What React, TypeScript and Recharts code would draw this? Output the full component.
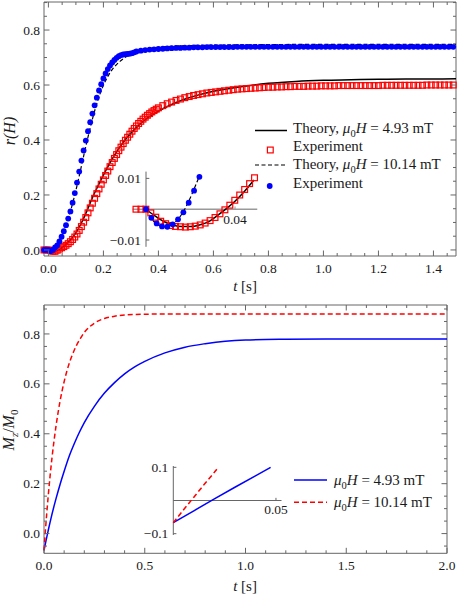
import {
  ComposedChart,
  Line,
  Scatter,
  XAxis,
  YAxis,
  ReferenceArea,
  ReferenceLine,
  ReferenceDot,
} from "recharts";

const FONT = '"Liberation Serif", "Times New Roman", serif';
const FRAME = "#666";
const TXT = "#1a1a1a";
const BLUE = "#0000ff";
const RED = "#ff0000";

// ---------- upper panel: r(H) against t ----------
const topXMajor = [0, 0.2, 0.4, 0.6, 0.8, 1.0, 1.2, 1.4];
const topYMajor = [0, 0.2, 0.4, 0.6, 0.8];

// experiment, 10.14 mT (blue dots): fine steps on the rise, coarser on the plateau
const blueRiseT0 = -0.016;
const blueRiseDt = 0.008;
const blueRise = [
  0.0, 0.0, 0.0, -0.004, 0.0, 0.009, 0.017, 0.031, 0.048, 0.068, 0.09, 0.114,
  0.14, 0.172, 0.207, 0.245, 0.285, 0.325, 0.362, 0.398, 0.432, 0.465, 0.496,
  0.526, 0.554, 0.58, 0.603, 0.624, 0.642, 0.658, 0.671, 0.682, 0.691, 0.699,
  0.705, 0.709, 0.711, 0.712, 0.713, 0.714, 0.716, 0.719, 0.722,
];
const bluePlateauT0 = 0.336;
const bluePlateauDt = 0.016;
const bluePlateau = [
  0.725, 0.727, 0.729, 0.73, 0.731, 0.732, 0.733, 0.734, 0.735, 0.735, 0.736,
  0.736, 0.737, 0.737, 0.737, 0.738, 0.738, 0.738, 0.738, 0.738, 0.738, 0.738,
  0.739, 0.739, 0.739, 0.739, 0.739, 0.739, 0.739, 0.739, 0.739, 0.739, 0.739,
  0.739, 0.739, 0.739, 0.739, 0.739, 0.739, 0.739, 0.739, 0.739, 0.739, 0.739,
  0.739, 0.739, 0.739, 0.739, 0.739, 0.739, 0.739, 0.739, 0.739, 0.739, 0.739,
  0.739, 0.739, 0.739, 0.739, 0.739, 0.739, 0.739, 0.739, 0.739, 0.739, 0.739,
  0.739, 0.739, 0.739, 0.739, 0.739, 0.739,
];

// experiment, 4.93 mT (red squares)
const redRiseT0 = -0.016;
const redRiseDt = 0.008;
const redRise = [
  0.0, 0.0, 0.0, -0.002, -0.005, -0.005, -0.001, 0.003, 0.008, 0.012, 0.017,
  0.023, 0.03, 0.038, 0.047, 0.058, 0.071, 0.085, 0.101, 0.118, 0.135, 0.153,
  0.17, 0.188, 0.205, 0.222, 0.239, 0.255, 0.271, 0.287, 0.303, 0.318, 0.333,
  0.347, 0.361, 0.374, 0.387, 0.399, 0.41, 0.421, 0.432, 0.442, 0.451, 0.46,
  0.468, 0.476, 0.483, 0.49, 0.496, 0.502, 0.507, 0.512, 0.517,
];
const redPlateauT0 = 0.416;
const redPlateauDt = 0.016;
const redPlateau = [
  0.525, 0.532, 0.538, 0.544, 0.549, 0.554, 0.558, 0.562, 0.565, 0.568, 0.571,
  0.573, 0.575, 0.577, 0.579, 0.581, 0.583, 0.585, 0.586, 0.587, 0.588, 0.589,
  0.59, 0.591, 0.592, 0.592, 0.593, 0.593, 0.594, 0.594, 0.595, 0.595, 0.595,
  0.596, 0.596, 0.596, 0.597, 0.597, 0.597, 0.597, 0.598, 0.598, 0.598, 0.598,
  0.598, 0.598, 0.598, 0.598, 0.598, 0.598, 0.599, 0.599, 0.599, 0.599, 0.599,
  0.599, 0.599, 0.599, 0.599, 0.599, 0.6, 0.6, 0.6, 0.6, 0.6, 0.6, 0.6,
];

// theory curves
const theoryLowT = [
  0, 0.01, 0.02, 0.03, 0.04, 0.05, 0.06, 0.08, 0.1, 0.12, 0.14, 0.16, 0.18, 0.2,
  0.22, 0.24, 0.26, 0.28, 0.3, 0.33, 0.36, 0.4, 0.45, 0.5, 0.55, 0.6, 0.7, 0.8,
  0.9, 1.0, 1.1, 1.2, 1.3, 1.4, 1.482,
];
const theoryLow = [
  0, -0.004, -0.0055, -0.003, 0.002, 0.009, 0.017, 0.036, 0.062, 0.098, 0.142,
  0.19, 0.232, 0.272, 0.31, 0.344, 0.375, 0.402, 0.425, 0.455, 0.48, 0.505,
  0.53, 0.55, 0.565, 0.577, 0.594, 0.606, 0.613, 0.617, 0.619, 0.621, 0.622,
  0.622, 0.623,
];
const theoryHighT = [
  0, 0.005, 0.01, 0.015, 0.02, 0.03, 0.04, 0.05, 0.06, 0.07, 0.08, 0.09, 0.1,
  0.11, 0.12, 0.13, 0.14, 0.15, 0.16, 0.17, 0.18, 0.19, 0.2, 0.22, 0.24, 0.26,
  0.28, 0.3, 0.33, 0.36, 0.4, 0.45, 0.5, 0.6, 0.7, 0.8, 1.0, 1.2, 1.482,
];
const theoryHigh = [
  0, -0.005, -0.0055, -0.001, 0.004, 0.016, 0.03, 0.052, 0.078, 0.107, 0.14,
  0.177, 0.217, 0.26, 0.305, 0.35, 0.394, 0.436, 0.476, 0.512, 0.545, 0.574,
  0.599, 0.638, 0.666, 0.686, 0.701, 0.712, 0.724, 0.731, 0.737, 0.741, 0.743,
  0.745, 0.746, 0.747, 0.748, 0.748, 0.748,
];

// upper inset (start of the rise)
const insetRedT0 = -0.0045;
const insetRedDt = 0.00222;
const insetRed = [
  0, 0, 0, -0.0012, -0.0026, -0.0039, -0.0047, -0.0053, -0.0056, -0.0057,
  -0.0058, -0.0057, -0.0055, -0.0051, -0.0045, -0.0037, -0.0027, -0.0015,
  -0.0002, 0.0013, 0.0029, 0.0046, 0.0064, 0.0083, 0.0102,
];
const insetBlueT0 = 0;
const insetBlueDt = 0.0024;
const insetBlue = [
  0, -0.0028, -0.0046, -0.0056, -0.0057, -0.0049, -0.0033, -0.001, 0.0021,
  0.006, 0.0105,
];
const insetLowT = [0, 0.004, 0.008, 0.012, 0.016, 0.02, 0.024, 0.028, 0.032, 0.036, 0.04, 0.044, 0.0485];
const insetLow = [0, -0.0022, -0.004, -0.0051, -0.0056, -0.0056, -0.0051, -0.0041, -0.0021, 0.0001, 0.0026, 0.0056, 0.0095];
const insetHighT = [0, 0.003, 0.006, 0.009, 0.012, 0.015, 0.018, 0.021, 0.024];
const insetHigh = [0, -0.0035, -0.0053, -0.0057, -0.0048, -0.0027, 0.0008, 0.0055, 0.0108];

// ---------- lower panel: Mz/M0 against t ----------
const botXMajor = [0, 0.5, 1.0, 1.5, 2.0];
const botYMajor = [0, 0.2, 0.4, 0.6, 0.8];
const mzLowT = [
  0, 0.01, 0.02, 0.03, 0.04, 0.05, 0.06, 0.08, 0.1, 0.125, 0.15, 0.175, 0.2,
  0.25, 0.3, 0.35, 0.4, 0.45, 0.5, 0.6, 0.7, 0.8, 0.9, 1.0, 1.2, 1.4, 1.6, 1.8,
  2.0,
];
const mzLow = [
  -0.067, -0.028, 0.009, 0.045, 0.079, 0.111, 0.141, 0.198, 0.25, 0.31, 0.36,
  0.405, 0.445, 0.51, 0.563, 0.605, 0.64, 0.668, 0.69, 0.724, 0.747, 0.761,
  0.771, 0.776, 0.779, 0.78, 0.78, 0.78, 0.78,
];
const mzHighT = [
  0, 0.01, 0.02, 0.03, 0.04, 0.05, 0.06, 0.08, 0.1, 0.12, 0.14, 0.16, 0.18, 0.2,
  0.25, 0.3, 0.35, 0.4, 0.5, 0.6, 0.8, 1.0, 1.5, 2.0,
];
const mzHigh = [
  -0.067, 0.044, 0.142, 0.229, 0.306, 0.373, 0.433, 0.532, 0.609, 0.669, 0.715,
  0.752, 0.781, 0.806, 0.843, 0.862, 0.871, 0.876, 0.879, 0.88, 0.88, 0.88,
  0.88, 0.88,
];
const mzInsetLowT = [0, 0.01, 0.02, 0.03, 0.04, 0.0474];
const mzInsetLow = [-0.067, -0.031, 0.005, 0.04, 0.074, 0.1];
const mzInsetHighT = [0, 0.005, 0.01, 0.015, 0.02, 0.0219];
const mzInsetHigh = [-0.067, -0.028, 0.01, 0.048, 0.085, 0.1];

// ---------- helpers ----------
const sampled = (t0: number, dt: number, vals: number[]) =>
  vals.map((v, i) => ({ t: Number((t0 + i * dt).toFixed(5)), v }));
const paired = (ts: number[], vals: number[]) =>
  ts.map((t, i) => ({ t, v: vals[i] }));
const stepTicks = (from: number, to: number, step: number) => {
  const out: number[] = [];
  for (let k = Math.ceil(from / step - 1e-9); k * step <= to + 1e-9; k++)
    out.push(Number((k * step).toFixed(4)));
  return out;
};
const isMajor = (majors: number[], v: number) =>
  majors.some((m) => Math.abs(m - v) < 1e-6);

type Geo = { w: number; h: number; left: number; right: number; top: number; bottom: number };

// frame ticks point inwards on all four sides, labels only on bottom/left
const xFrameTick = (majors: number[], g: Geo) => (p: any) => {
  const v = p.payload.value;
  const major = isMajor(majors, v);
  const len = major ? 5.5 : 3;
  return (
    <g>
      <line x1={p.x} x2={p.x} y1={g.bottom} y2={g.bottom - len} stroke={FRAME} />
      <line x1={p.x} x2={p.x} y1={g.top} y2={g.top + len} stroke={FRAME} />
      {major && (
        <text x={p.x} y={g.bottom + 16.5} textAnchor="middle" fontSize={13.5} fontFamily={FONT} fill={TXT}>
          {v.toFixed(1)}
        </text>
      )}
    </g>
  );
};

const yFrameTick = (majors: number[], g: Geo) => (p: any) => {
  const v = p.payload.value;
  const major = isMajor(majors, v);
  const len = major ? 5.5 : 3;
  return (
    <g>
      <line x1={g.left} x2={g.left + len} y1={p.y} y2={p.y} stroke={FRAME} />
      <line x1={g.right} x2={g.right - len} y1={p.y} y2={p.y} stroke={FRAME} />
      {major && (
        <text x={g.left - 4} y={p.y + 4.6} textAnchor="end" fontSize={13.5} fontFamily={FONT} fill={TXT}>
          {v.toFixed(1)}
        </text>
      )}
    </g>
  );
};

const BlueDot = (p: any) => <circle cx={p.cx} cy={p.cy} r={2.9} fill={BLUE} />;
const RedSquare = (p: any) => (
  <rect x={p.cx - 2.9} y={p.cy - 2.9} width={5.8} height={5.8} fill="none" stroke={RED} strokeWidth={1.2} />
);

const lbl = (value: string, position: string, offset: number) => ({
  value,
  position,
  offset,
  fill: TXT,
  fontSize: 13.5,
  fontFamily: FONT,
});

// ---------- geometry ----------
const TOP: Geo = { w: 457, h: 300, left: 44, right: 456, top: 2, bottom: 256 };
const BOT: Geo = { w: 457, h: 299, left: 44, right: 447, top: 5, bottom: 253.3 };
const topX: [number, number] = [-0.016, 1.482];
const topY: [number, number] = [-0.022, 0.902];
const botX: [number, number] = [0, 2];
const botY: [number, number] = [-0.079, 0.916];
const insTopX: [number, number] = [-0.006, 0.05];
const insTopY: [number, number] = [-0.0122, 0.0122];
const insBotX: [number, number] = [0, 0.0527];
const insBotY: [number, number] = [-0.104, 0.104];

// axes get 1px of room (a zero-sized axis is not drawn), so take it off the margin
const margin = (g: Geo) => ({
  top: g.top,
  bottom: g.h - g.bottom - 1,
  left: g.left - 1,
  right: g.w - g.right,
});

function Mu0H() {
  return (
    <>
      <tspan fontStyle="italic">μ</tspan>
      <tspan fontSize={10.5} dy={3.5}>0</tspan>
      <tspan fontStyle="italic" dy={-3.5}>H</tspan>
    </>
  );
}

export default function App() {
  return (
    <div
      style={{
        position: "fixed",
        left: 0,
        top: 0,
        width: 457,
        height: 599,
        background: "#fff",
        overflow: "hidden",
      }}
    >
      {/* upper panel */}
      <div style={{ position: "absolute", left: 0, top: 0 }}>
        <ComposedChart width={TOP.w} height={TOP.h} margin={margin(TOP)}>
          <XAxis
            type="number"
            dataKey="t"
            domain={topX}
            ticks={stepTicks(0, topX[1], 0.05)}
            interval={0}
            tickSize={0}
            tickMargin={0}
            height={1}
            axisLine={false}
            tick={xFrameTick(topXMajor, TOP)}
          />
          <YAxis
            type="number"
            dataKey="v"
            domain={topY}
            ticks={stepTicks(0, topY[1], 0.05)}
            interval={0}
            tickSize={0}
            tickMargin={0}
            width={1}
            axisLine={false}
            tick={yFrameTick(topYMajor, TOP)}
          />
          <ReferenceArea x1={topX[0]} x2={topX[1]} y1={topY[0]} y2={topY[1]} fill="none" stroke={FRAME} ifOverflow="visible" />
          <Scatter data={sampled(redRiseT0, redRiseDt, redRise)} dataKey="v" shape={RedSquare} isAnimationActive={false} />
          <Scatter data={sampled(redPlateauT0, redPlateauDt, redPlateau)} dataKey="v" shape={RedSquare} isAnimationActive={false} />
          <Scatter data={sampled(blueRiseT0, blueRiseDt, blueRise)} dataKey="v" shape={BlueDot} isAnimationActive={false} />
          <Scatter data={sampled(bluePlateauT0, bluePlateauDt, bluePlateau)} dataKey="v" shape={BlueDot} isAnimationActive={false} />
          <Line data={paired(theoryLowT, theoryLow)} dataKey="v" type="monotone" stroke="#000" strokeWidth={1.5} dot={false} isAnimationActive={false} />
          <Line data={paired(theoryHighT, theoryHigh)} dataKey="v" type="monotone" stroke="#000" strokeWidth={1.2} strokeDasharray="4 2.5" dot={false} isAnimationActive={false} />
        </ComposedChart>
      </div>

      {/* upper inset */}
      <div style={{ position: "absolute", left: 100, top: 160 }}>
        <ComposedChart width={170} height={95} margin={{ left: 32.65, right: 12.75, top: 11.6, bottom: 8.2 }}>
          <XAxis type="number" dataKey="t" domain={insTopX} hide />
          <YAxis type="number" dataKey="v" domain={insTopY} hide />
          <ReferenceLine y={0} stroke="#999" strokeWidth={1.4} />
          <ReferenceLine x={0} stroke={FRAME} />
          <ReferenceLine segment={[{ x: 0, y: 0.01 }, { x: 0.0015, y: 0.01 }]} stroke={FRAME} />
          <ReferenceLine segment={[{ x: 0, y: -0.01 }, { x: 0.0015, y: -0.01 }]} stroke={FRAME} />
          <ReferenceLine segment={[{ x: 0.04, y: 0 }, { x: 0.04, y: 0.0009 }]} stroke="#999" />
          <ReferenceDot x={0} y={0.01} r={0} label={lbl("0.01", "left", 5)} />
          <ReferenceDot x={0} y={-0.01} r={0} label={lbl("\u22120.01", "left", 5)} />
          <ReferenceDot x={0.04} y={0} r={0} label={lbl("0.04", "bottom", 5)} />
          <Scatter data={sampled(insetRedT0, insetRedDt, insetRed)} dataKey="v" shape={RedSquare} isAnimationActive={false} />
          <Scatter data={sampled(insetBlueT0, insetBlueDt, insetBlue)} dataKey="v" shape={BlueDot} isAnimationActive={false} />
          <Line data={paired(insetLowT, insetLow)} dataKey="v" type="monotone" stroke="#000" strokeWidth={1.5} dot={false} isAnimationActive={false} />
          <Line data={paired(insetHighT, insetHigh)} dataKey="v" type="monotone" stroke="#000" strokeWidth={1.2} strokeDasharray="4 2.5" dot={false} isAnimationActive={false} />
        </ComposedChart>
      </div>

      {/* lower panel */}
      <div style={{ position: "absolute", left: 0, top: 300 }}>
        <ComposedChart width={BOT.w} height={BOT.h} margin={margin(BOT)}>
          <XAxis
            type="number"
            dataKey="t"
            domain={botX}
            ticks={stepTicks(0, botX[1], 0.1)}
            interval={0}
            tickSize={0}
            tickMargin={0}
            height={1}
            axisLine={false}
            tick={xFrameTick(botXMajor, BOT)}
          />
          <YAxis
            type="number"
            dataKey="v"
            domain={botY}
            ticks={stepTicks(botY[0], botY[1], 0.05)}
            interval={0}
            tickSize={0}
            tickMargin={0}
            width={1}
            axisLine={false}
            tick={yFrameTick(botYMajor, BOT)}
          />
          <ReferenceArea x1={botX[0]} x2={botX[1]} y1={botY[0]} y2={botY[1]} fill="none" stroke={FRAME} ifOverflow="visible" />
          <Line data={paired(mzLowT, mzLow)} dataKey="v" type="monotone" stroke={BLUE} strokeWidth={1.5} dot={false} isAnimationActive={false} />
          <Line data={paired(mzHighT, mzHigh)} dataKey="v" type="monotone" stroke={RED} strokeWidth={1.5} strokeDasharray="5 3" dot={false} isAnimationActive={false} />
        </ComposedChart>
      </div>

      {/* lower inset */}
      <div style={{ position: "absolute", left: 130, top: 455 }}>
        <ComposedChart width={170} height={90} margin={{ left: 43.3, right: 18.5, top: 11, bottom: 10 }}>
          <XAxis type="number" dataKey="t" domain={insBotX} hide />
          <YAxis type="number" dataKey="v" domain={insBotY} hide />
          <ReferenceLine y={0} stroke={FRAME} />
          <ReferenceLine x={0} stroke={FRAME} />
          <ReferenceLine segment={[{ x: 0, y: 0.1 }, { x: 0.0015, y: 0.1 }]} stroke={FRAME} />
          <ReferenceLine segment={[{ x: 0, y: -0.1 }, { x: 0.0015, y: -0.1 }]} stroke={FRAME} />
          <ReferenceLine segment={[{ x: 0.05, y: 0 }, { x: 0.05, y: 0.008 }]} stroke={FRAME} />
          <ReferenceDot x={0} y={0.1} r={0} label={lbl("0.1", "left", 5)} />
          <ReferenceDot x={0} y={-0.1} r={0} label={lbl("\u22120.1", "left", 5)} />
          <ReferenceDot x={0.05} y={0} r={0} label={lbl("0.05", "bottom", 4)} />
          <Line data={paired(mzInsetLowT, mzInsetLow)} dataKey="v" type="linear" stroke={BLUE} strokeWidth={1.5} dot={false} isAnimationActive={false} />
          <Line data={paired(mzInsetHighT, mzInsetHigh)} dataKey="v" type="linear" stroke={RED} strokeWidth={1.5} strokeDasharray="5 3" dot={false} isAnimationActive={false} />
        </ComposedChart>
      </div>

      {/* titles and legends */}
      <svg
        width={457}
        height={599}
        style={{ position: "absolute", left: 0, top: 0, pointerEvents: "none" }}
        fontFamily={FONT}
        fill={TXT}
      >
        <text x={245} y={291} textAnchor="middle" fontSize={15}>
          <tspan fontStyle="italic">t</tspan> [s]
        </text>
        <text x={245} y={591} textAnchor="middle" fontSize={15}>
          <tspan fontStyle="italic">t</tspan> [s]
        </text>
        <text transform="translate(15,131) rotate(-90)" textAnchor="middle" fontSize={16} fontStyle="italic">
          r(H)
        </text>
        <text transform="translate(14,430) rotate(-90)" textAnchor="middle" fontSize={16}>
          <tspan fontStyle="italic">M</tspan>
          <tspan fontStyle="italic" fontSize={11} dy={3.5}>z</tspan>
          <tspan dy={-3.5}>/</tspan>
          <tspan fontStyle="italic">M</tspan>
          <tspan fontSize={11} dy={3.5}>0</tspan>
        </text>

        {/* upper legend */}
        <g fontSize={15}>
          <line x1={255} x2={287} y1={130.5} y2={130.5} stroke="#000" strokeWidth={1.5} />
          <text x={293} y={133}>
            Theory, <Mu0H /> = 4.93 mT
          </text>
          <RedSquare cx={270.3} cy={150} />
          <text x={293} y={151}>Experiment</text>
          <line x1={255} x2={287} y1={165} y2={165} stroke="#000" strokeWidth={1.2} strokeDasharray="4 2.5" />
          <text x={293} y={169}>
            Theory, <Mu0H /> = 10.14 mT
          </text>
          <BlueDot cx={269.7} cy={186} />
          <text x={293} y={188}>Experiment</text>
        </g>

        {/* lower legend */}
        <g fontSize={15}>
          <line x1={294} x2={327} y1={480} y2={480} stroke={BLUE} strokeWidth={1.5} />
          <text x={334} y={485}>
            <Mu0H /> = 4.93 mT
          </text>
          <line x1={294} x2={327} y1={502.3} y2={502.3} stroke={RED} strokeWidth={1.5} strokeDasharray="5 3" />
          <text x={334} y={507}>
            <Mu0H /> = 10.14 mT
          </text>
        </g>
      </svg>
    </div>
  );
}
